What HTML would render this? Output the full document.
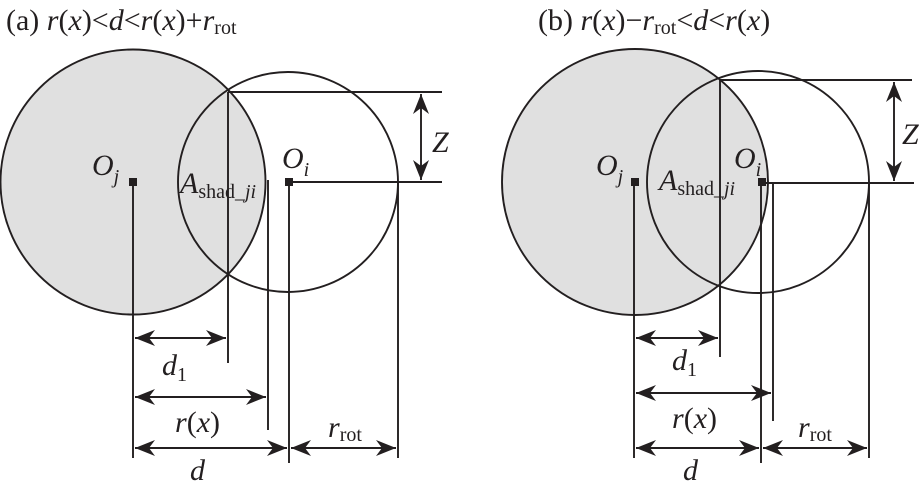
<!DOCTYPE html>
<html><head><meta charset="utf-8"><style>
html,body{margin:0;padding:0;background:#fff;width:924px;height:491px;overflow:hidden}
svg text{font-family:"Liberation Serif",serif;fill:#231f20}
.i{font-style:italic}
</style></head><body>
<svg width="924" height="491" viewBox="0 0 924 491" xmlns="http://www.w3.org/2000/svg">
<defs>
<marker id="a" viewBox="0 0 10 10" refX="10" refY="5" markerWidth="20" markerHeight="16" markerUnits="userSpaceOnUse" orient="auto-start-reverse" preserveAspectRatio="none">
<path d="M0,0 L10,5 L0,10 L3,5 Z" fill="#231f20"/></marker>
</defs>
<g stroke="#231f20" stroke-width="1.9" fill="none">
<circle cx="133" cy="182" r="132.5" fill="#e0e0e0"/>
<circle cx="288" cy="182" r="110"/>
<path d="M228,92 L442,92 M290,182 L442,182 M133,182 L133,458 M228,92 L228,363 M268,180 L268,430 M289,182 L289,463 M398,182 L398,458"/>
<line x1="421" y1="94" x2="421" y2="180" marker-start="url(#a)" marker-end="url(#a)"/>
<line x1="135" y1="338" x2="226" y2="338" marker-start="url(#a)" marker-end="url(#a)"/>
<line x1="135" y1="397" x2="266" y2="397" marker-start="url(#a)" marker-end="url(#a)"/>
<line x1="135" y1="448" x2="287" y2="448" marker-start="url(#a)" marker-end="url(#a)"/>
<line x1="291" y1="448" x2="396" y2="448" marker-start="url(#a)" marker-end="url(#a)"/>
<circle cx="635" cy="182" r="133" fill="#e0e0e0"/>
<circle cx="758" cy="182" r="111"/>
<path d="M720,80 L912,80 M762,183 L914,183 M634,182 L634,458 M720,80 L720,357 M773,182 L773,421 M761,182 L761,463 M869,182 L869,458"/>
<line x1="894" y1="82" x2="894" y2="181" marker-start="url(#a)" marker-end="url(#a)"/>
<line x1="636" y1="338" x2="718" y2="338" marker-start="url(#a)" marker-end="url(#a)"/>
<line x1="636" y1="393" x2="771" y2="393" marker-start="url(#a)" marker-end="url(#a)"/>
<line x1="636" y1="448" x2="759" y2="448" marker-start="url(#a)" marker-end="url(#a)"/>
<line x1="763" y1="448" x2="867" y2="448" marker-start="url(#a)" marker-end="url(#a)"/>
</g>
<g fill="#231f20">
<rect x="129" y="178" width="8" height="8"/><rect x="285" y="178" width="8" height="8"/>
<rect x="631" y="178" width="8" height="8"/><rect x="758" y="178" width="8" height="8"/>
</g>
<g font-size="30">
<text x="6" y="30">(a) <tspan class="i">r</tspan>(<tspan class="i">x</tspan>)&lt;<tspan class="i">d</tspan>&lt;<tspan class="i">r</tspan>(<tspan class="i">x</tspan>)+<tspan class="i">r</tspan><tspan font-size="20" dy="4">rot</tspan></text>
<text x="538" y="30">(b) <tspan class="i">r</tspan>(<tspan class="i">x</tspan>)−<tspan class="i">r</tspan><tspan font-size="20" dy="4">rot</tspan><tspan dy="-4">&lt;</tspan><tspan class="i">d</tspan>&lt;<tspan class="i">r</tspan>(<tspan class="i">x</tspan>)</text>
<text x="92" y="175" class="i">O<tspan font-size="20" dy="8">j</tspan></text>
<text x="282" y="168" class="i">O<tspan font-size="20" dy="8">i</tspan></text>
<text x="180" y="193" class="i">A<tspan font-size="20" font-style="normal" dy="5">shad_<tspan font-style="italic">ji</tspan></tspan></text>
<text x="432" y="152" class="i">Z</text>
<text x="162" y="375" class="i">d<tspan font-size="20" font-style="normal" dy="6">1</tspan></text>
<text x="175" y="432" class="i">r<tspan font-style="normal">(</tspan>x<tspan font-style="normal">)</tspan></text>
<text x="190" y="480" class="i">d</text>
<text x="328" y="437" class="i">r<tspan font-size="20" font-style="normal" dy="4">rot</tspan></text>
<text x="596" y="175" class="i">O<tspan font-size="20" dy="8">j</tspan></text>
<text x="734" y="168" class="i">O<tspan font-size="20" dy="8">i</tspan></text>
<text x="659" y="190" class="i">A<tspan font-size="20" font-style="normal" dy="5">shad_<tspan font-style="italic">ji</tspan></tspan></text>
<text x="902" y="144" class="i">Z</text>
<text x="672" y="370" class="i">d<tspan font-size="20" font-style="normal" dy="6">1</tspan></text>
<text x="672" y="428" class="i">r<tspan font-style="normal">(</tspan>x<tspan font-style="normal">)</tspan></text>
<text x="683" y="480" class="i">d</text>
<text x="798" y="437" class="i">r<tspan font-size="20" font-style="normal" dy="4">rot</tspan></text>
</g>
</svg>
</body></html>
